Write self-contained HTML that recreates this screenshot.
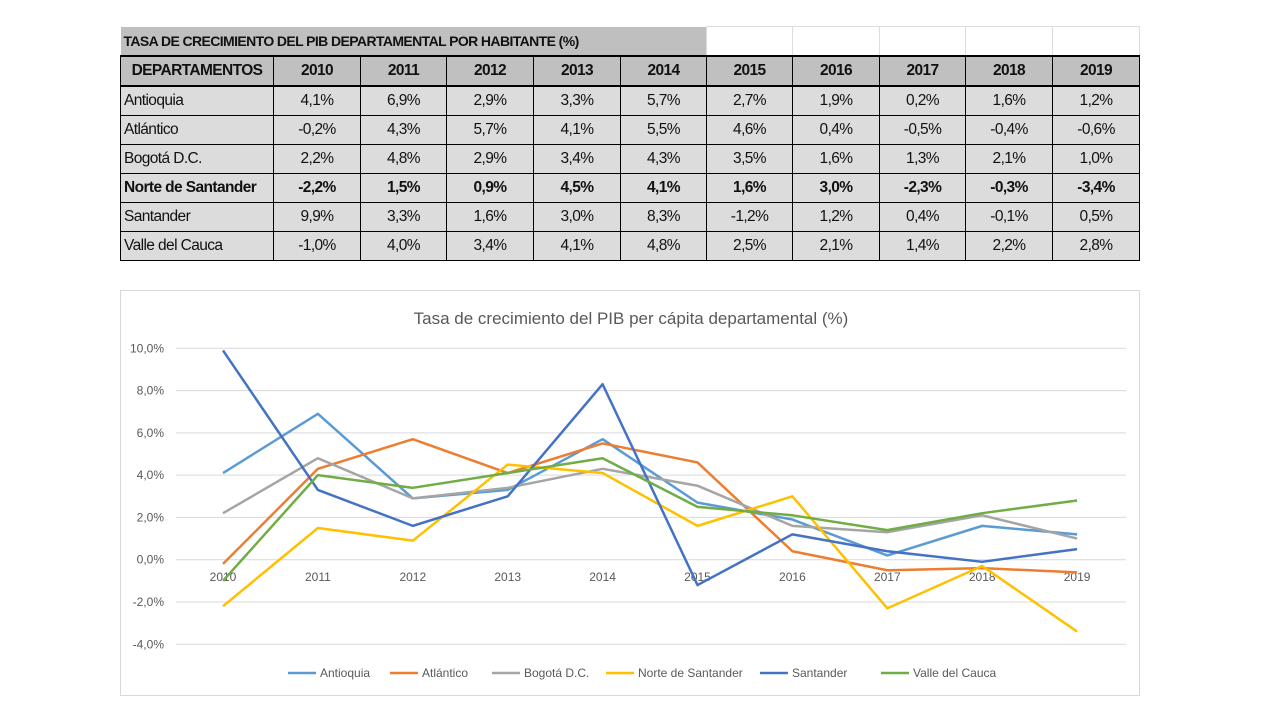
<!DOCTYPE html>
<html><head><meta charset="utf-8"><style>
body{margin:0;width:1280px;height:720px;background:#fff;position:relative;overflow:hidden;font-family:"Liberation Sans",sans-serif}
table{position:absolute;left:120px;top:26px;border-collapse:collapse;table-layout:fixed;width:1019px}
td{height:28px;padding:0;font-size:15.5px;text-align:center;background:#dcdcdc;border:1px solid #000;letter-spacing:-0.6px;color:#111}
td.l{text-align:left;padding-left:3px}
tr.t td{background:#bfbfbf;border:none;border-bottom:2px solid #000;font-weight:bold;font-size:14px;text-align:left;padding-left:3px}
tr.t td.w{background:#fff;border:1px solid #ddd;border-bottom:2px solid #000}
tr.h td{background:#c0c0c0;font-weight:bold;border-bottom:2px solid #000}
tr.b td{font-weight:bold}
#chart{position:absolute;left:120px;top:290px;width:1018px;height:404px;border:1px solid #d9d9d9}
</style></head><body>
<table>
<colgroup><col style="width:153px"><col style="width:87px"><col style="width:86px"><col style="width:87px"><col style="width:87px"><col style="width:86px"><col style="width:86px"><col style="width:87px"><col style="width:86px"><col style="width:87px"><col style="width:87px"></colgroup>
<tr class="t"><td colspan="6">TASA DE CRECIMIENTO DEL PIB DEPARTAMENTAL POR HABITANTE (%)</td><td class="w"></td><td class="w"></td><td class="w"></td><td class="w"></td><td class="w"></td></tr>
<tr class="h"><td>DEPARTAMENTOS</td><td>2010</td><td>2011</td><td>2012</td><td>2013</td><td>2014</td><td>2015</td><td>2016</td><td>2017</td><td>2018</td><td>2019</td></tr>
<tr><td class="l">Antioquia</td><td>4,1%</td><td>6,9%</td><td>2,9%</td><td>3,3%</td><td>5,7%</td><td>2,7%</td><td>1,9%</td><td>0,2%</td><td>1,6%</td><td>1,2%</td></tr>
<tr><td class="l">Atlántico</td><td>-0,2%</td><td>4,3%</td><td>5,7%</td><td>4,1%</td><td>5,5%</td><td>4,6%</td><td>0,4%</td><td>-0,5%</td><td>-0,4%</td><td>-0,6%</td></tr>
<tr><td class="l">Bogotá D.C.</td><td>2,2%</td><td>4,8%</td><td>2,9%</td><td>3,4%</td><td>4,3%</td><td>3,5%</td><td>1,6%</td><td>1,3%</td><td>2,1%</td><td>1,0%</td></tr>
<tr class="b"><td class="l">Norte de Santander</td><td>-2,2%</td><td>1,5%</td><td>0,9%</td><td>4,5%</td><td>4,1%</td><td>1,6%</td><td>3,0%</td><td>-2,3%</td><td>-0,3%</td><td>-3,4%</td></tr>
<tr><td class="l">Santander</td><td>9,9%</td><td>3,3%</td><td>1,6%</td><td>3,0%</td><td>8,3%</td><td>-1,2%</td><td>1,2%</td><td>0,4%</td><td>-0,1%</td><td>0,5%</td></tr>
<tr><td class="l">Valle del Cauca</td><td>-1,0%</td><td>4,0%</td><td>3,4%</td><td>4,1%</td><td>4,8%</td><td>2,5%</td><td>2,1%</td><td>1,4%</td><td>2,2%</td><td>2,8%</td></tr>
</table>
<svg id="chart" width="1018" height="404" viewBox="120 290 1018 404" style="position:absolute">
<text x="630" y="323" font-size="17" fill="#595959" text-anchor="middle" font-family="Liberation Sans">Tasa de crecimiento del PIB per cápita departamental  (%)</text>
<g id="g"></g>
</svg>
<script>
var g=document.getElementById('g'),s='';
function Y(v){return 558.7-21.14*v}
function X(i){return 222+94.9*i}
for(var v=-4;v<=10;v+=2){s+='<line x1="175" x2="1125" y1="'+Y(v)+'" y2="'+Y(v)+'" stroke="#d9d9d9" stroke-width="1"/>';
s+='<text x="163" y="'+(Y(v)+4)+'" font-size="12" fill="#595959" text-anchor="end">'+v.toFixed(1).replace('.',',')+'%</text>';}
for(var i=0;i<10;i++)s+='<text x="'+X(i)+'" y="580" font-size="12" fill="#595959" text-anchor="middle">'+(2010+i)+'</text>';
var d=[["Antioquia","#5b9bd5",[4.1,6.9,2.9,3.3,5.7,2.7,1.9,0.2,1.6,1.2]],
["Atlántico","#ed7d31",[-0.2,4.3,5.7,4.1,5.5,4.6,0.4,-0.5,-0.4,-0.6]],
["Bogotá D.C.","#a5a5a5",[2.2,4.8,2.9,3.4,4.3,3.5,1.6,1.3,2.1,1.0]],
["Norte de Santander","#ffc000",[-2.2,1.5,0.9,4.5,4.1,1.6,3.0,-2.3,-0.3,-3.4]],
["Santander","#4472c4",[9.9,3.3,1.6,3.0,8.3,-1.2,1.2,0.4,-0.1,0.5]],
["Valle del Cauca","#70ad47",[-1.0,4.0,3.4,4.1,4.8,2.5,2.1,1.4,2.2,2.8]]];
var lx=[287,389,491,605,759,880];
d.forEach(function(e,k){s+='<polyline fill="none" stroke="'+e[1]+'" stroke-width="2.5" stroke-linejoin="round" points="'+e[2].map(function(v,i){return X(i)+','+Y(v)}).join(' ')+'"/>';
s+='<line x1="'+lx[k]+'" x2="'+(lx[k]+28)+'" y1="672" y2="672" stroke="'+e[1]+'" stroke-width="2.5"/><text x="'+(lx[k]+32)+'" y="676" font-size="12" fill="#595959">'+e[0]+'</text>';});
g.innerHTML=s;
</script>
</body></html>
